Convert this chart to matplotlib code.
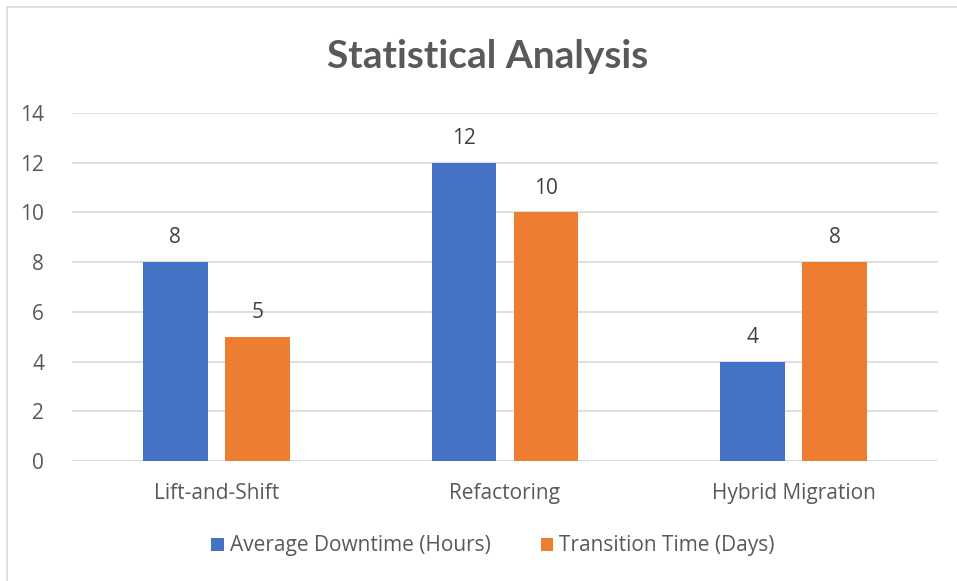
import numpy as np
import matplotlib
matplotlib.use("Agg")
import matplotlib.pyplot as plt
from matplotlib.patches import Rectangle

categories = ["Lift-and-Shift", "Refactoring", "Hybrid Migration"]
downtime_hours = [8, 12, 4]
transition_days = [5, 10, 8]
series_names = ["Average Downtime (Hours)", "Transition Time (Days)"]
y_ticks = [0, 2, 4, 6, 8, 10, 12, 14]

plt.rcParams["font.family"] = ["Open Sans", "DejaVu Sans"]
text_color = "#595959"
blue = "#4472C4"
orange = "#ED7D31"

fig = plt.figure(figsize=(9.57, 5.81), dpi=100)
fig.patches.append(Rectangle((7 / 957, -0.1), 1.2, 1 - 7 / 581 + 0.1, transform=fig.transFigure,
                             fill=False, edgecolor="#d9d9d9", linewidth=1.2))

ax = fig.add_axes([72 / 957, 1 - 461 / 581, (938 - 72) / 957, (461 - 113) / 581])
x = np.arange(len(categories))
w = 0.225
off = 0.142
b1 = ax.bar(x - off, downtime_hours, w, color=blue, label=series_names[0], zorder=3)
b2 = ax.bar(x + off, transition_days, w, color=orange, label=series_names[1], zorder=3)
for bars in (b1, b2):
    ax.bar_label(bars, padding=10, fontsize=15, color="#404040")

ax.set_xlim(-0.5, 2.5)
ax.set_ylim(0, 14)
ax.set_yticks(y_ticks)
ax.set_xticks(x)
ax.set_xticklabels(categories)
ax.tick_params(axis="both", length=0, labelsize=15, labelcolor=text_color)
ax.tick_params(axis="y", pad=20)
ax.tick_params(axis="x", pad=16)
ax.grid(axis="y", color="#d9d9d9", linewidth=1.2, zorder=0)
for s in ax.spines.values():
    s.set_visible(False)

fig.text(488 / 957, 1 - 57 / 581, "Statistical Analysis", ha="center", va="center",
         fontsize=28, fontweight="bold", color=text_color, family=["Lato", "DejaVu Sans"])

fig.legend(handles=[b1, b2], loc="center", bbox_to_anchor=(493 / 957, 1 - 546 / 581), ncol=2,
           frameon=False, fontsize=15, labelcolor=text_color, handlelength=0.6, handleheight=0.6,
           handletextpad=0.3, columnspacing=2.4)

fig.savefig("out.png", dpi=100)
